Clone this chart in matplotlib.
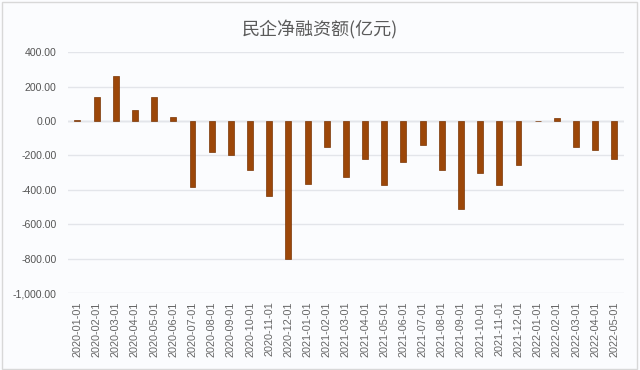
import numpy as np
import matplotlib
matplotlib.use('Agg')
import matplotlib.pyplot as plt
from matplotlib.ticker import FuncFormatter
from matplotlib.patches import Rectangle

plt.rcParams['font.family'] = ['Noto Sans CJK SC', 'DejaVu Sans']

#-data (net financing of private firms, 100m yuan)
months = ['2020-01-01', '2020-02-01', '2020-03-01', '2020-04-01', '2020-05-01', '2020-06-01',
          '2020-07-01', '2020-08-01', '2020-09-01', '2020-10-01', '2020-11-01', '2020-12-01',
          '2021-01-01', '2021-02-01', '2021-03-01', '2021-04-01', '2021-05-01', '2021-06-01',
          '2021-07-01', '2021-08-01', '2021-09-01', '2021-10-01', '2021-11-01', '2021-12-01',
          '2022-01-01', '2022-02-01', '2022-03-01', '2022-04-01', '2022-05-01']
values = [3, 140, 262, 64, 140, 25,
          -385, -180, -195, -285, -435, -800,
          -365, -150, -327, -220, -373, -240,
          -140, -285, -510, -305, -373, -255,
          0, 20, -150, -170, -220]
yticks = [400, 200, 0, -200, -400, -600, -800, -1000]

bg = '#fbfcfe'
fig = plt.figure(figsize=(6.4, 3.7), dpi=100, facecolor=bg)
fig.patches.append(Rectangle((0.003, 0.004), 0.992, 0.99, transform=fig.transFigure,
                             fill=False, edgecolor='#d8d8d8', linewidth=1))
ax = fig.add_axes([0.106, 0.208, 0.869, 0.651], facecolor=bg)

x = np.arange(len(months))
ax.bar(x, values, width=0.31, color='#9c4709', edgecolor='#7a3606', linewidth=0.5, zorder=3)

ax.set_ylim(-1000, 400)
ax.set_xlim(-0.5, len(months) - 0.5)
ax.set_yticks(yticks)
ax.yaxis.set_major_formatter(FuncFormatter(lambda v, p: '{:,.2f}'.format(v)))
ax.grid(axis='y', color='#e3e5ea', linewidth=1, zorder=0)
ax.axhline(0, color='#d3d6dc', linewidth=1, zorder=1)
ax.set_xticks(x)
ax.set_xticklabels(months, rotation=90, fontsize=7.8, color='#666666', family='Liberation Sans')
for lbl in ax.get_yticklabels():
    lbl.set_family('Liberation Sans')
ax.tick_params(axis='y', labelsize=7.6, colors='#555555', length=0, pad=8)
ax.tick_params(axis='x', length=0, pad=6)
for s in ax.spines.values():
    s.set_visible(False)

fig.text(0.5, 0.918, '民企净融资额(亿元)', ha='center', va='center', fontsize=13, color='#5a5a5a')

plt.savefig('out.png', dpi=100, facecolor=bg)
